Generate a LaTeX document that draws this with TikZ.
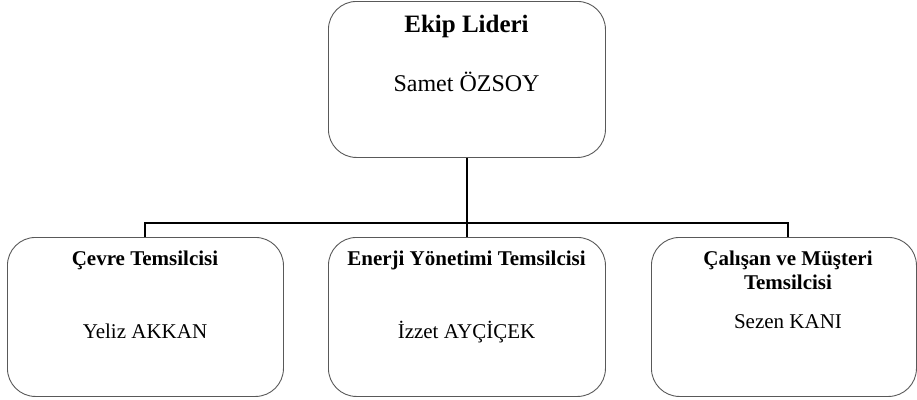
\documentclass[tikz,border=0pt]{standalone}
\usepackage{fontspec}
\setmainfont{Liberation Serif}
\begin{document}
\begin{tikzpicture}[x=1pt,y=-1pt,
  orgbox/.style={draw=black!65, line width=0.9pt, rounded corners=28pt, anchor=north west, inner sep=0pt},
  conn/.style={line width=2.6pt, black, line join=miter},
  bighead/.style={font=\bfseries\fontsize{25}{30}\selectfont, anchor=base, inner sep=0pt},
  bigperson/.style={font=\fontsize{24}{29}\selectfont, anchor=base, inner sep=0pt},
  rolehead/.style={font=\bfseries\fontsize{21}{25}\selectfont, anchor=base, inner sep=0pt},
  person/.style={font=\fontsize{21}{25}\selectfont, anchor=base, inner sep=0pt}]
\useasboundingbox (0,0) rectangle (917,399);
% boxes
\node[orgbox, minimum width=277pt, minimum height=156pt] (lead) at (328,1) {};
\node[orgbox, minimum width=276pt, minimum height=159pt] (c1) at (7,237) {};
\node[orgbox, minimum width=277pt, minimum height=159pt] (c2) at (328,237) {};
\node[orgbox, minimum width=265pt, minimum height=159pt] (c3) at (651,237) {};
% texts
\node[bighead] (t0) at (466.5,32) {Ekip Lideri};
\node[bigperson] (n0) at (466.5,91) {Samet ÖZSOY};
\node[rolehead] (t1) at (145,265) {Çevre Temsilcisi};
\node[person] (n1) at (145,338) {Yeliz AKKAN};
\node[rolehead] (t2) at (466.5,265) {Enerji Yönetimi Temsilcisi};
\node[person] (n2) at (466.5,338) {İzzet AYÇİÇEK};
\node[rolehead] (t3a) at (788,265) {Çalışan ve Müşteri};
\node[rolehead] (t3b) at (788,289) {Temsilcisi};
\node[person] (n3) at (788,328) {Sezen KANI};
% connectors
\coordinate (bus) at (467,223);
\coordinate (r3) at (788,237);
\coordinate (l1) at (145,237);
\draw[conn] (lead.south) -- (c2.north);
\draw[conn] (l1) -- (l1 |- bus) -- (r3 |- bus) -- (r3);
\end{tikzpicture}
\end{document}
